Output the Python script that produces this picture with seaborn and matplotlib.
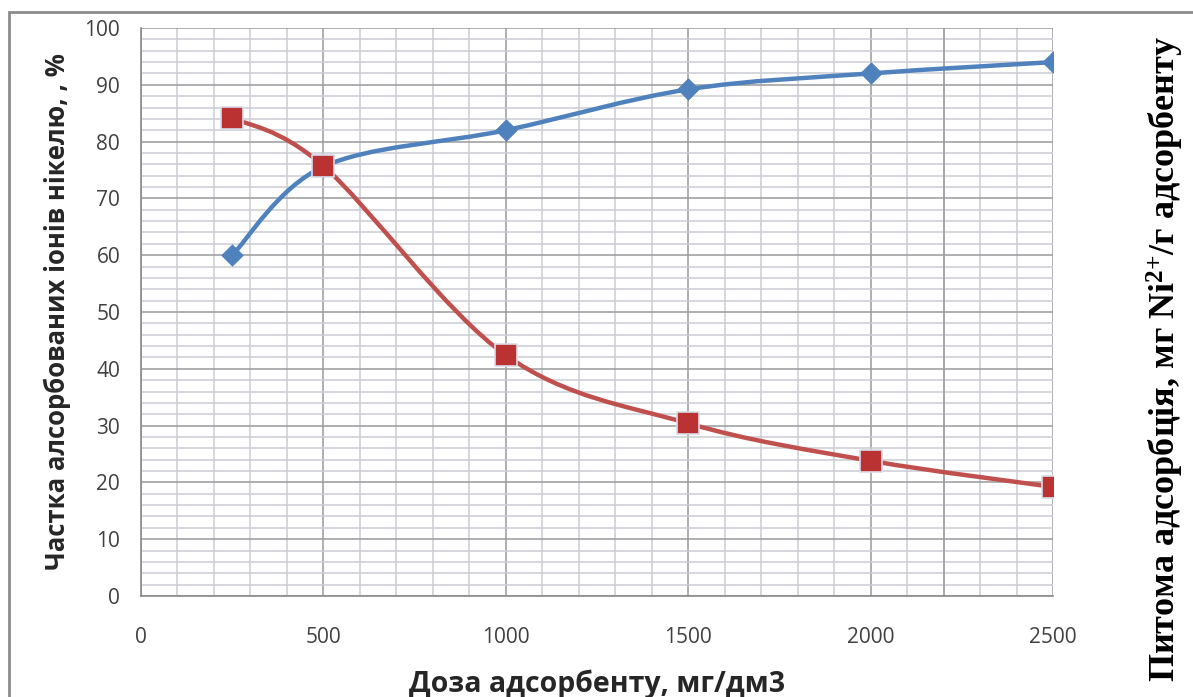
import numpy as np
import pandas as pd
import matplotlib
matplotlib.use("Agg")
import matplotlib.pyplot as plt
import seaborn as sns
from matplotlib.path import Path
from matplotlib.patches import PathPatch, Rectangle

dose = [250, 500, 1000, 1500, 2000, 2500]
share_blue = [60.0, 75.6, 82.0, 89.2, 92.0, 94.0]
share_red = [84.2, 75.7, 42.4, 30.4, 23.8, 19.2]

x_ticks = [0, 500, 1000, 1500, 2000, 2500]
y_ticks = [0, 10, 20, 30, 40, 50, 60, 70, 80, 90, 100]

xlabel = "Доза адсорбенту, мг/дм3"
ylabel = "Частка алсорбованих іонів нікелю, , %"
ylabel2 = "Питома адсорбція, мг Ni$^{\\mathbf{2{+}}}$/г адсорбенту"

sns.set_theme(style="white")
plt.rcParams["font.family"] = ["Open Sans", "DejaVu Sans"]
plt.rcParams["mathtext.fontset"] = "custom"
plt.rcParams["mathtext.rm"] = "Liberation Serif:bold"
plt.rcParams["mathtext.it"] = "Liberation Serif:bold"
plt.rcParams["mathtext.bf"] = "Liberation Serif:bold"

fig = plt.figure(figsize=(11.93, 6.97), dpi=100)
ax = fig.add_axes([141/1193, 1 - 596/697, (1053-141)/1193, (596-28)/697])

df = pd.DataFrame({"dose": dose + dose,
                   "val": share_blue + share_red,
                   "series": ["blue"] * len(dose) + ["red"] * len(dose)})

blue_c = "#4F81BD"
red_c = "#C0504D"


def smooth_path(xs, ys):
    # Excel-style smoothed line as cubic Bezier through the data points
    pts = np.column_stack([xs, ys]).astype(float)
    n = len(pts)
    verts = [pts[0]]
    codes = [Path.MOVETO]
    for i in range(n - 1):
        p0 = pts[i - 1] if i > 0 else pts[i]
        p1 = pts[i]
        p2 = pts[i + 1]
        p3 = pts[i + 2] if i + 2 < n else pts[i + 1]
        c1 = p1 + (p2 - p0) / 6.0
        c2 = p2 - (p3 - p1) / 6.0
        verts += [c1, c2, p2]
        codes += [Path.CURVE4] * 3
    return Path(verts, codes)


for ys, c in [(share_blue, blue_c), (share_red, red_c)]:
    ax.add_patch(PathPatch(smooth_path(dose, ys), facecolor="none",
                           edgecolor=c, lw=3.2, zorder=3, capstyle="round"))

sns.scatterplot(data=df[df.series == "blue"], x="dose", y="val", ax=ax,
                marker="D", s=120, color=blue_c, edgecolor=blue_c,
                linewidth=0.5, zorder=4, legend=False)
sns.scatterplot(data=df[df.series == "red"], x="dose", y="val", ax=ax,
                marker="s", s=260, color="#BA3232", edgecolor="#D9DDEA",
                linewidth=1.2, zorder=4, legend=False)

ax.set_xlim(0, 2500)
ax.set_ylim(0, 100)
ax.set_xticks(x_ticks)
ax.set_yticks(y_ticks)
ax.set_xticks(np.arange(0, 2501, 100), minor=True)
ax.set_yticks(np.arange(0, 101, 2), minor=True)

ax.grid(which="minor", color="#CBCCD5", lw=1.1, zorder=0)
ax.grid(which="major", color="#9A9A9E", lw=1.1, zorder=1)
ax.axvline(2200, color="#9A9A9E", lw=1.1, zorder=1)
ax.set_axisbelow(True)

for s in ["top", "right"]:
    ax.spines[s].set_visible(False)
for s in ["left", "bottom"]:
    ax.spines[s].set_color("#8A8A8A")
    ax.spines[s].set_linewidth(1.2)

ax.tick_params(axis="both", which="major", direction="out", length=8,
               width=1.1, color="#8A8A8A", labelsize=15, labelcolor="#404040")
ax.tick_params(axis="x", which="major", pad=14)
ax.tick_params(axis="y", which="major", pad=7)
ax.tick_params(which="minor", length=0)

ax.set_xlabel(xlabel, fontsize=20.5, fontweight="bold", color="#262626", labelpad=16)
ax.set_ylabel(ylabel, fontsize=18.5, fontweight="bold", color="#262626", labelpad=10)

fig.text(1165/1193, 1 - 359/697, ylabel2, rotation=90, ha="center", va="center",
         fontsize=26, fontweight="bold", color="black",
         family=["Liberation Serif", "DejaVu Serif"])

fig.patches.append(Rectangle((9/1193, -0.2), 1.2, 1.2 + (697-12)/697 - 1.0,
                             transform=fig.transFigure, fill=False,
                             edgecolor="#8C8C8C", lw=2.0, zorder=-1))

fig.savefig("out.png", dpi=100)
